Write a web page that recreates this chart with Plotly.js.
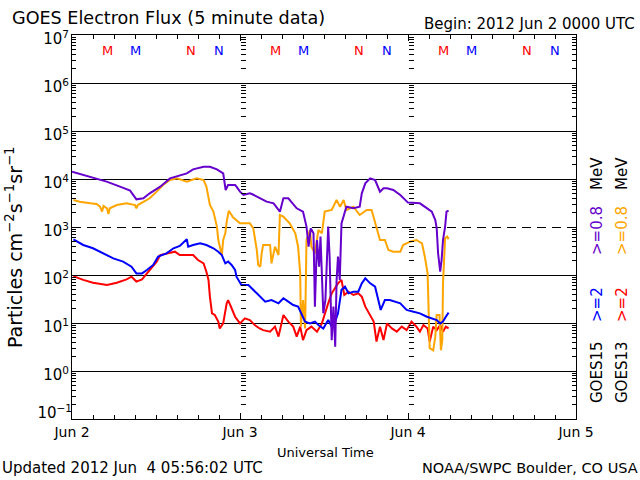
<!DOCTYPE html>
<html>
<head>
<meta charset="utf-8">
<script src="https://cdn.plot.ly/plotly-3.0.1.min.js"></script>
<style>html,body{margin:0;padding:0;background:#fff;}#chart{width:640px;height:480px;}</style>
</head>
<body>
<div id="chart"></div>
<script>
// Hours after 2012-06-02 00:00 UTC, and flux (particles cm^-2 s^-1 sr^-1)
const g15e08Hours = [0,1.5,3.05,4.95,6.86,8.3,9.2,10.2,11.1,12.6,14.0,15.4,16.4,17.3,18.8,19.7,20.7,21.6,21.95,22.3,23.3,23.5,24.0,24.5,25.4,25.7,26.6,27.8,28.8,29.7,30.2,30.9,32.1,33.0,33.5,33.8,34.1,34.5,34.7,35.0,35.3,35.5,35.9,36.2,36.6,36.8,37.1,37.35,37.6,37.8,38.0,38.25,38.5,38.8,39.2,40.2,41.1,41.4,41.9,42.6,43.3,44.0,44.5,45.0,45.9,46.9,48.0,49.7,50.4,51.4,51.9,52.1,52.3,52.6,52.8,53.0,53.3,53.5,53.8];
const g15e08Flux  = [14200,12300,10800,8800,6930,5720,3770,3960,5030,6930,10300,12100,13100,15900,18000,18000,15900,13100,5900,7500,7500,6930,5450,4640,5030,4870,4150,3370,3110,2090,3960,3960,2450,2090,1020,389,940,738,21.9,536,149,630,15.9,30.1,1020,241,4.4,21.9,3.2,79,241,79,1190,1640,2650,2450,2650,5030,8130,10300,9530,5450,6400,6400,5900,4640,3220,3110,2650,2090,1400,940,283,117,205,536,1020,2090,2190];

const g13e08Hours = [0.2,1.1,2.6,3.5,4.0,4.3,4.5,5.0,5.2,5.4,6.4,7.8,9.0,9.2,9.4,10.2,11.1,12.1,13.0,14.0,15.0,16.4,17.8,18.8,19.2,19.7,20.2,20.7,20.9,21.4,21.5,21.6,21.9,22.1,22.4,23.0,24.0,25.4,25.9,26.4,26.6,26.9,27.1,27.3,28.3,28.5,29.0,29.5,29.7,30.2,31.1,31.9,32.3,32.6,32.7,33.0,33.3,33.5,34.0,34.2,34.7,35.2,35.7,36.1,37.1,37.8,38.3,38.8,39.2,40.2,41.1,42.1,42.8,43.5,44.0,44.7,45.2,45.9,46.9,47.3,48.3,49.2,50.0,50.4,50.8,51.0,51.1,51.6,51.9,52.1,52.5,52.7,52.9,53.0,53.3,53.6,53.8];
const g13e08Flux  = [3650,3370,3110,3020,2650,2090,2750,2450,1870,2450,2870,3110,2870,2450,2870,3370,3960,5450,7500,9530,10300,8800,10300,9530,6930,2870,2090,1020,536,261,389,536,738,1290,2190,1590,1190,1190,940,332,162,149,283,422,422,175,389,261,1780,1640,1190,738,389,108,8.4,30.1,7.7,536,866,389,283,866,738,2090,2260,3650,2650,3650,2260,2650,1780,2260,2260,1020,536,536,332,306,306,422,495,536,457,241,108,9.8,3.0,2.7,5.2,14.7,14.7,2.7,4.4,67,581,630,554];

const g15e2Hours = [0.2,1.6,3.0,4.5,5.9,7.3,8.5,9.2,10.0,10.7,11.6,12.3,13.5,14.5,15.4,16.4,16.6,17.3,18.3,19.2,20.2,20.9,21.4,21.9,22.3,22.8,23.3,23.5,23.8,24.2,25.2,25.7,26.4,27.6,28.5,29.5,30.2,30.9,31.6,32.3,32.8,33.3,34.0,34.7,35.2,35.9,36.6,37.1,37.6,38.0,38.5,39.0,39.5,40.2,40.9,41.4,41.9,42.6,43.3,43.8,44.1,44.7,45.4,46.9,47.8,48.8,49.7,50.7,51.4,52.1,52.6,53.0,53.4,53.8];
const g15e2Flux  = [554,422,360,283,222,190,149,108,108,127,162,241,283,360,402,554,389,422,457,422,360,306,261,175,190,162,127,92,79,62,62,53,41.5,27.8,30.1,25.7,32.7,27.8,23.7,21.9,14.7,10.7,9.8,10.7,9.1,7.7,11.5,8.4,10.7,15.9,49,57,41.5,45,45,67,85,67,57,30.1,18.7,30.1,30.1,25.7,18.7,17.2,15.9,13.5,12.5,11.5,9.8,10.7,13.5,16.4];

const g13e2Hours = [0.2,1.6,3.0,5.0,6.4,7.8,8.5,9.2,10.0,10.7,11.4,12.1,12.6,13.5,14.7,15.4,16.4,17.3,18.0,18.8,19.2,19.5,19.7,20.0,20.4,20.9,21.1,21.6,22.1,22.3,22.8,23.3,24.0,24.7,25.4,26.1,26.8,27.3,28.3,29.0,29.5,30.2,30.9,31.6,32.1,32.6,33.0,33.5,34.2,35.0,35.7,36.1,36.6,37.1,37.6,38.0,38.5,38.9,39.5,40.2,40.9,41.4,41.9,42.6,43.1,43.5,44.0,44.5,45.0,45.7,46.4,47.1,47.8,48.5,49.2,49.7,50.2,50.8,51.1,51.6,52.1,52.6,53.0,53.4,53.8];
const g13e2Flux  = [95,79,69,62,69,81,92,73,81,108,138,190,261,283,306,261,261,261,205,175,117,79,35.4,15.9,14.7,10.7,7.7,9.8,25.7,30.1,20.3,13.5,9.8,12.5,11.5,9.1,7.7,7.1,6.6,8.4,5.2,14.7,10.7,8.4,5.2,8.4,4.4,7.1,8.4,6.6,9.8,15.9,25.7,41.5,53,67,79,38.3,45,38.3,41.5,35.4,21.9,14.7,10.7,4.1,8.4,4.4,9.8,7.7,6.6,8.4,7.1,10.7,8.4,6.6,9.1,7.7,4.1,8.4,7.1,9.1,6.6,8.4,7.7];

// Local midnight (M) and noon (N) of each satellite, hours after start
const g13MidnightHours = [5, 29, 53];
const g15MidnightHours = [9, 33, 57];
const g13NoonHours = [17, 41, 65];
const g15NoonHours = [21, 45, 69];

const dayTicks = ['2012-06-02','2012-06-03','2012-06-04','2012-06-05'];
const dayLabels = ['Jun 2','Jun 3','Jun 4','Jun 5'];
const decadeVals = [0.1,1,10,100,1000,1e4,1e5,1e6,1e7];
const upperDecadeVals = [1,10,100,1000,1e4,1e5,1e6,1e7];
const upperDecadeLabels = ['10<sup>0</sup>','10<sup>1</sup>','10<sup>2</sup>','10<sup>3</sup>','10<sup>4</sup>','10<sup>5</sup>','10<sup>6</sup>','10<sup>7</sup>'];
const bottomDecadeVals = [0.1];
const bottomDecadeLabels = ['10<sup>−1</sup>'];
const solidGridVals = [1,10,100,1e4,1e5,1e6];
const dashedGridVals = [1000];

const HOUR = 3600000, T0 = Date.UTC(2012,5,2);
function toDate(h){ return new Date(T0 + h*HOUR).toISOString().slice(0,19).replace('T',' '); }

const minorVals = [];
for (let e = -1; e < 7; e++) for (let m = 2; m <= 9; m++) minorVals.push(m*Math.pow(10,e));

const PURPLE = '#6600CC', ORANGE = '#FFA500', BLUE = '#0000FF', RED = '#FF0000';
function tr(hours, flux, color){
  return {x: hours.map(toDate), y: flux, type:'scatter', mode:'lines', line:{color:color, width:2}, hoverinfo:'skip', showlegend:false};
}
function empty(yax){ return {x:[], y:[], type:'scatter', mode:'lines', yaxis:yax, showlegend:false, hoverinfo:'skip'}; }
const data = [
  empty('y2'), empty('y3'), empty('y4'), empty('y5'), empty('y6'),
  tr(g13e2Hours, g13e2Flux, RED),
  tr(g13e08Hours, g13e08Flux, ORANGE),
  tr(g15e2Hours, g15e2Flux, BLUE),
  tr(g15e08Hours, g15e08Flux, PURPLE)
];

const FONT = 'DejaVu Sans, sans-serif';
const L = 72, R = 576, T = 35, B = 419;
function px(x){ return (x - L)/(R - L); }
function py(y){ return (B - y)/(B - T); }

const ann = [];
function txt(text, x, y, size, color, extra){
  ann.push(Object.assign({text:text, xref:'paper', yref:'paper', x:px(x), y:py(y), showarrow:false,
    xanchor:'center', yanchor:'middle', font:{family:FONT, size:size, color:color||'#000'}}, extra||{}));
}
txt('GOES Electron Flux (5 minute data)', 10, 18, 17.6, '#000', {xanchor:'left'});
txt('Begin: 2012 Jun 2 0000 UTC', 637, 24, 15, '#000', {xanchor:'right'});
txt('Updated 2012 Jun  4 05:56:02 UTC', 0, 468, 15, '#000', {xanchor:'left'});
txt('NOAA/SWPC Boulder, CO USA', 640, 468, 14.5, '#000', {xanchor:'right'});
txt('Universal Time', 325, 452, 13);
txt('Particles cm<sup>−2</sup>s<sup>−1</sup>sr<sup>−1</sup>', 14, 247, 19, '#000', {textangle:-90});
// right-side legend columns
txt('GOES15', 597, 372, 15, '#000', {textangle:-90});
txt('>=2', 597, 305, 15, BLUE, {textangle:-90});
txt('>=0.8', 597, 231, 15, PURPLE, {textangle:-90});
txt('MeV', 597, 174, 15, '#000', {textangle:-90});
txt('GOES13', 622, 372, 15, '#000', {textangle:-90});
txt('>=2', 622, 305, 15, RED, {textangle:-90});
txt('>=0.8', 622, 231, 15, ORANGE, {textangle:-90});
txt('MeV', 622, 174, 15, '#000', {textangle:-90});

function mark(hours, letter, color){
  hours.forEach(h => ann.push({text:letter, xref:'x', yref:'paper', x:toDate(h), y:py(50), showarrow:false,
    xanchor:'center', yanchor:'middle', font:{family:FONT, size:13, color:color}}));
}
mark(g13MidnightHours,'M',RED); mark(g15MidnightHours,'M',BLUE);
mark(g13NoonHours,'N',RED); mark(g15NoonHours,'N',BLUE);

const baseY = {type:'log', range:[-1,7], fixedrange:true};
function overlay(extra){ return Object.assign({}, baseY, {overlaying:'y', showticklabels:false, showline:false, zeroline:false, showgrid:false}, extra); }

const layout = {
  width:640, height:480,
  margin:{l:L, r:640-R, t:T, b:480-B, pad:0},
  paper_bgcolor:'#fff', plot_bgcolor:'#fff',
  font:{family:FONT, size:14, color:'#000'},
  showlegend:false,
  xaxis:{type:'date', range:[dayTicks[0], dayTicks[3]], tickmode:'array', tickvals:dayTicks, ticktext:dayLabels,
    ticks:'inside', ticklen:6, tickcolor:'#000', tickwidth:1,
    minor:{dtick:3*HOUR, tick0:dayTicks[0], ticks:'inside', ticklen:4, tickcolor:'#000', showgrid:false},
    showline:true, linecolor:'#000', linewidth:1, mirror:'ticks', showgrid:false, zeroline:false,
    tickfont:{family:FONT,size:14}},
  yaxis:Object.assign({}, baseY, {tickmode:'array', tickvals:upperDecadeVals, ticktext:upperDecadeLabels,
    ticks:'inside', ticklen:7, tickcolor:'#000', tickwidth:1,
    minor:{tickmode:'array', tickvals:minorVals, ticks:'inside', ticklen:4, tickcolor:'#000', showgrid:false},
    showline:true, linecolor:'#000', linewidth:1, mirror:'ticks', showgrid:false, zeroline:false,
    tickfont:{family:FONT,size:15}, ticklabelshift:4, ticklabelstandoff:-1}),
  yaxis2: overlay({tickmode:'array', tickvals:solidGridVals, ticks:'', showgrid:true, gridcolor:'#000', gridwidth:1}),
  yaxis3: overlay({tickmode:'array', tickvals:dashedGridVals, ticks:'', showgrid:true, gridcolor:'#000', gridwidth:1, griddash:'9px,6px'}),
  yaxis4: overlay({anchor:'free', position:1/3, side:'left', tickmode:'array', tickvals:minorVals, ticks:'inside', ticklen:5, tickcolor:'#000'}),
  yaxis5: overlay({anchor:'free', position:2/3, side:'left', tickmode:'array', tickvals:minorVals, ticks:'inside', ticklen:5, tickcolor:'#000'}),
  yaxis6: overlay({tickmode:'array', tickvals:bottomDecadeVals, ticktext:bottomDecadeLabels, ticks:'inside', ticklen:7, tickcolor:'#000',
    showticklabels:true, tickfont:{family:FONT,size:15}, ticklabelshift:-6, ticklabelstandoff:-1}),
  annotations: ann
};

Plotly.newPlot('chart', data, layout, {staticPlot:true, displayModeBar:false});
</script>
</body>
</html>
